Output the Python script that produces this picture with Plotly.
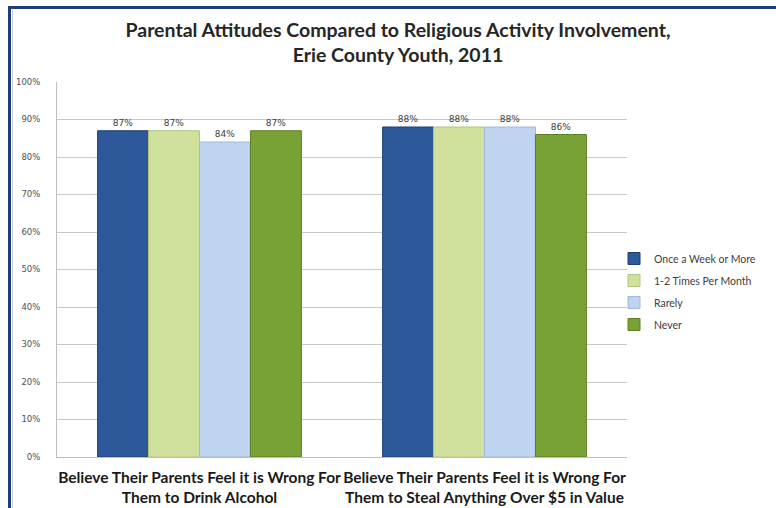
import plotly.graph_objects as go

categories = [
    "Believe Their Parents Feel it is Wrong For<br>Them to Drink Alcohol",
    "Believe Their Parents Feel it is Wrong For<br>Them to Steal Anything Over $5 in Value",
]
series_names = ["Once a Week or More", "1-2 Times Per Month", "Rarely", "Never"]
once_a_week = [87, 88]
one_two_month = [87, 88]
rarely = [84, 88]
never = [87, 86]
y_ticks = [0, 10, 20, 30, 40, 50, 60, 70, 80, 90, 100]

series_values = [once_a_week, one_two_month, rarely, never]
fills = ["#2d5899", "#cfe19c", "#bed4f0", "#78a236"]
edges = ["#1e3f75", "#b2c57c", "#a2b9d8", "#5b7f22"]

fig = go.Figure()
for i, (name, vals, fc, ec) in enumerate(zip(series_names, series_values, fills, edges)):
    fig.add_trace(go.Bar(
        name=name,
        legendgroup=f"g{i}",
        x=categories,
        y=vals,
        marker=dict(color=fc, line=dict(color=ec, width=1)),
        text=[f"{v}%" for v in vals],
        textposition="outside",
        cliponaxis=False,
        textfont=dict(family="DejaVu Sans", size=9, color="#404040"),
    ))

# plot area spans x 57..627, y 82..457 in pixels
L, R, T, B = 57, 149, 82, 51
W, H = 776 - L - R, 508 - T - B

def px(x):
    return (x - L) / W

def py(y):
    return (508 - B - y) / H

fig.update_layout(
    width=776,
    height=508,
    margin=dict(l=L, r=R, t=T, b=B, autoexpand=False),
    paper_bgcolor="white",
    plot_bgcolor="white",
    barmode="group",
    bargap=0.285,
    bargroupgap=0.0,
    title=dict(
        text="Parental Attitudes Compared to Religious Activity Involvement,<br>Erie County Youth, 2011",
        x=px(398), xanchor="center", xref="paper",
        y=1 - 37 / 508, yanchor="middle",
        font=dict(family="Lato", size=19.5, color="#262626", weight="bold"),
    ),
    legend=dict(
        x=px(614), xanchor="left",
        y=py(244), yanchor="top",
        font=dict(family="Lato", size=10.5, color="#404040"),
        itemwidth=30,
        traceorder="grouped",
        tracegroupgap=3,
        bgcolor="rgba(0,0,0,0)",
    ),
    xaxis=dict(
        showgrid=False,
        showline=True,
        linecolor="#bfbfbf",
        linewidth=1,
        ticks="",
        tickangle=0,
        ticklabelstandoff=6,
        tickfont=dict(family="Lato", size=15.5, color="#1a1a1a", weight="bold"),
    ),
    yaxis=dict(
        range=[0, 100],
        tickvals=y_ticks,
        ticktext=[f"{t}%" for t in y_ticks],
        showgrid=True,
        gridcolor="#c8c8c8",
        gridwidth=1,
        showline=True,
        linecolor="#bfbfbf",
        zeroline=False,
        ticks="",
        ticklabelstandoff=14,
        tickfont=dict(family="DejaVu Sans", size=8.5, color="#505050"),
    ),
    showlegend=True,
)

# frame around the figure: top and left rules
fig.add_shape(type="line", xref="paper", yref="paper",
              x0=px(8), x1=px(776), y0=py(7.5), y1=py(7.5),
              line=dict(color="#1f3d7a", width=3))
fig.add_shape(type="line", xref="paper", yref="paper",
              x0=px(9.5), x1=px(9.5), y0=py(6), y1=py(508),
              line=dict(color="#1f3d7a", width=3))
fig.add_shape(type="line", xref="paper", yref="paper",
              x0=px(12.5), x1=px(12.5), y0=py(10), y1=py(508),
              line=dict(color="#c9d3e3", width=1))

fig.write_html("out.html")
